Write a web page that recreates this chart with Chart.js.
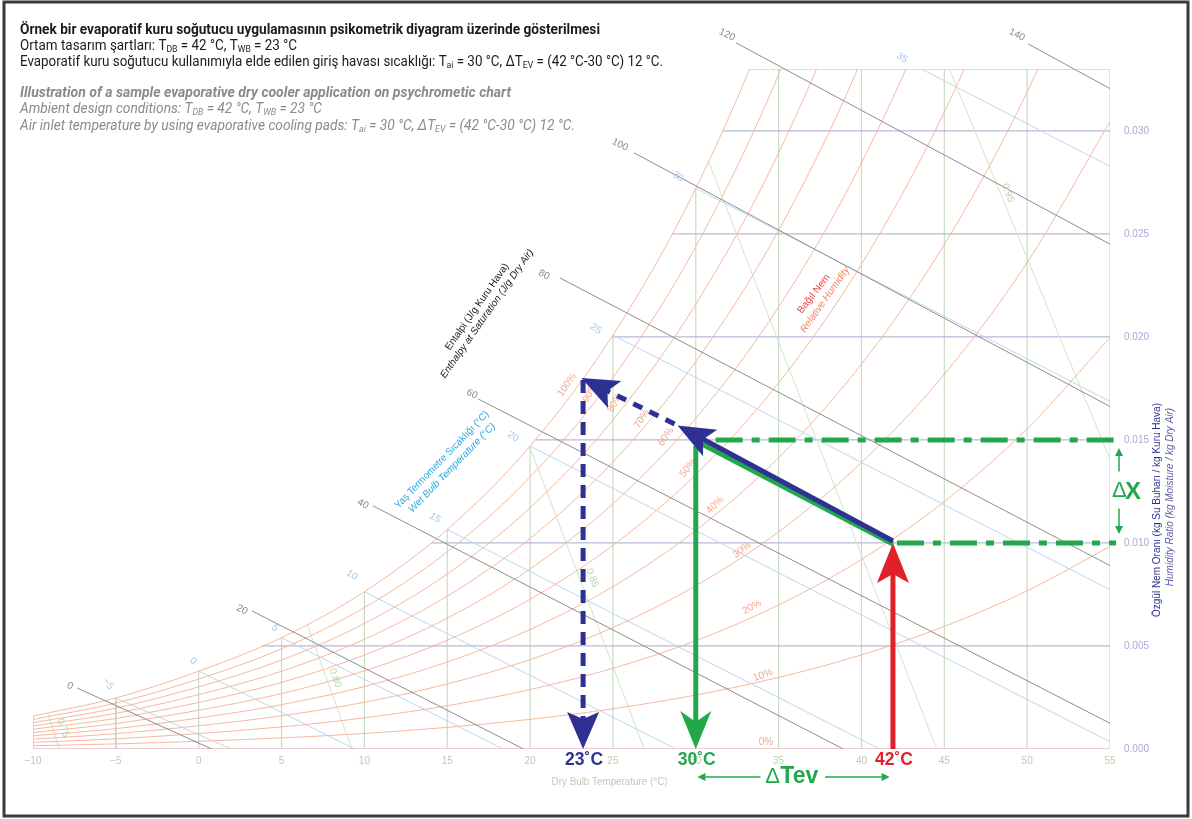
<!DOCTYPE html>
<html><head><meta charset="utf-8">
<script src="https://cdn.jsdelivr.net/npm/chart.js@4.4.1/dist/chart.umd.min.js"></script>
<style>html,body{margin:0;padding:0;background:#fff;}canvas{display:block;}</style>
</head><body>
<canvas id="c" width="1192" height="819"></canvas>
<script>
// ---------------- DATA ----------------
const dryBulbC = [-10,-5,0,5,10,15,20,25,30,35,40,45,50,55];
const satPressureKPa = [0.2600,0.4019,0.6112,0.8726,1.2282,1.7058,2.3392,3.1697,4.2467,5.6286,7.3844,9.5944,12.351,15.761];
const atmPressureKPa = 101.325;
const rhPercent = [10,20,30,40,50,60,70,80,90,100];

const xTickValues = [-10,-5,0,5,10,15,20,25,30,35,40,45,50,55];
const xTickLabels = ['\u221210','\u22125','0','5','10','15','20','25','30','35','40','45','50','55'];
const yTickValues = [0,0.005,0.010,0.015,0.020,0.025,0.030];
const yTickLabels = ['0.000','0.005','0.010','0.015','0.020','0.025','0.030'];

// horizontal humidity-ratio grid: W and dew point where it meets saturation
const gridHumidity = [0.005,0.010,0.015,0.020,0.025,0.030,0.033];
const gridDewPointC = [3.8,14.05,20.33,24.93,28.59,31.63,33.25];

// wet bulb lines: saturation start, temperature where W reaches 0
const wbTempsC = [-5,0,5,10,15,20,25,30,35];
const wbSatW = [0.002476,0.003789,0.005403,0.007632,0.010651,0.014699,0.020086,0.02721,0.036585];
const wbZeroC = [1.97,9.42,18.37,28.80,41.11,55.86,73.77,95.76,122.99];
const wbLabelT = [-5.47,-0.34,4.60,9.25,14.26,18.97,23.98,28.93,42.44];
const wbLabelW = [0.00316,0.00427,0.00587,0.00845,0.01121,0.01515,0.02039,0.02777,0.03354];

// enthalpy lines (J/g dry air)
const enthalpyLabels = [0,20,40,60,80,100,120,140];
const enthStartC = [-7.34,3.22,10.52,16.86,21.80,26.27,32.43,50.05];
const enthStartW = [0.00296,0.00670,0.01180,0.01699,0.02286,0.02893,0.03427,0.03422];
const enthEndC = [0.79,19.6,38.9,55,55,55,55,55];
const enthEndW = [0,0,0,0.00125,0.0089,0.01662,0.0245,0.03205];
const enthLabelT = [-7.77,2.61,9.92,16.49,20.84,25.43,31.88,49.38];
const enthLabelW = [0.00306,0.00675,0.01189,0.01723,0.02301,0.02932,0.03466,0.03466];

// specific volume lines (m3/kg)
const volLabels = ['0.75','0.80','0.85','0.90','0.95'];
const volTopC = [-9.1,6.55,19.97,30.75,45.3];
const volTopW = [0.00173,0.00603,0.01469,0.02855,0.033];
const volZeroC = [-8.41,9.25,26.89,44.54,62.2];
const volLabelT = [-8.19,8.23,23.74,null,48.84];
const volLabelW = [0.00102,0.00345,0.0083,null,0.02699];

// RH label anchors
const rhLabelText = ['0%','10%','20%','30%','40%','50%','60%','70%','80%','90%','100%'];
const rhLabelT = [34.24,34.06,33.39,32.79,31.16,29.53,28.2,26.75,25.12,23.62,22.23];
const rhLabelW = [0.00034,0.00359,0.00689,0.00966,0.01184,0.01364,0.01515,0.01602,0.0168,0.01728,0.01767];
const rhLabelRot = [0,-20,-28,-38,-45,-52,-55,-57,-60,-62,-55];

// process (evaporative cooling) annotation
const ambientState = [41.9, 0.0100];
const cooledState = [30.0, 0.0150];
const wbArrowTip = [28.9, 0.0157];
const saturationState = [23.1, 0.0180];
const markTempsC = [23.2, 30.0, 41.9];
const markLabels = ['23\u02DAC','30\u02DAC','42\u02DAC'];

// ---------------- BUILD DATASETS ----------------
const satW = satPressureKPa.map(p => 0.622*p/(atmPressureKPa-p));
const datasets = [];
const line = (data, color, width, order, extra) => Object.assign({
  data, showLine:true, borderColor:color, borderWidth:width, pointRadius:0, fill:false, order
}, extra||{});

// vertical dry bulb lines
dryBulbC.forEach((t,i) => {
  const c = (t < 0) ? '#c3bcb4' : '#c8dcc3';
  datasets.push(line([{x:t,y:0},{x:t,y:Math.min(satW[i],0.033)}], c, 1.2, 60));
});
// horizontal humidity lines
gridHumidity.forEach((w,i) => {
  datasets.push(line([{x:gridDewPointC[i],y:w},{x:55,y:w}], '#b9b9d8', 1.2, 55));
});
// specific volume lines
volLabels.forEach((v,i) => {
  datasets.push(line([{x:volTopC[i],y:volTopW[i]},{x:volZeroC[i],y:0}], '#cfe6c9', 1, 50));
});
// wet bulb lines
wbTempsC.forEach((t,i) => {
  datasets.push(line([{x:t,y:wbSatW[i]},{x:wbZeroC[i],y:0}], '#bed6f0', 1, 45));
});
// relative humidity curves
rhPercent.forEach(rh => {
  const phi = rh/100;
  const pts = dryBulbC.map((t,i) => ({x:t, y:0.622*phi*satPressureKPa[i]/(atmPressureKPa-phi*satPressureKPa[i])}));
  datasets.push(line(pts, '#f7b8a0', 1, 40, {cubicInterpolationMode:'monotone'}));
});
// 0% line
datasets.push(line([{x:-10,y:0},{x:55,y:0}], '#e4bcc4', 1.5, 39));
// enthalpy lines
enthalpyLabels.forEach((h,i) => {
  datasets.push(line([{x:enthStartC[i],y:enthStartW[i]},{x:enthEndC[i],y:enthEndW[i]}], '#8e8e8e', 1, 35,
    {clip:{left:false,top:false,right:0,bottom:0}}));
});

// ---------------- DRAW HELPERS ----------------
function rotText(ctx, text, x, y, deg, font, color, maxW) {
  ctx.save();
  ctx.translate(x,y); ctx.rotate(deg*Math.PI/180);
  ctx.font = font; ctx.fillStyle = color; ctx.textAlign='center'; ctx.textBaseline='middle';
  if (maxW) ctx.fillText(text,0,0,maxW); else ctx.fillText(text,0,0);
  ctx.restore();
}
function richText(ctx, x, y, segs, font, subFont, color, targetW) {
  ctx.save();
  let w = 0;
  segs.forEach(([t,sub]) => { ctx.font = sub?subFont:font; w += ctx.measureText(t).width; });
  const sx = targetW ? targetW/w : 1;
  ctx.translate(x,y); ctx.scale(sx,1);
  ctx.fillStyle = color; ctx.textBaseline='middle'; ctx.textAlign='left';
  let cx = 0;
  segs.forEach(([t,sub]) => { ctx.font = sub?subFont:font; ctx.fillText(t,cx,sub?3.5:0); cx += ctx.measureText(t).width; });
  ctx.restore();
}
function arrow(ctx, x0,y0,x1,y1, color, width, dash, len, half, notch) {
  const dx=x1-x0, dy=y1-y0, L=Math.hypot(dx,dy), ux=dx/L, uy=dy/L;
  ctx.save();
  ctx.strokeStyle=color; ctx.lineWidth=width; ctx.lineCap='butt';
  ctx.setLineDash(dash||[]);
  ctx.beginPath(); ctx.moveTo(x0,y0); ctx.lineTo(x1-ux*(len-notch), y1-uy*(len-notch)); ctx.stroke();
  ctx.setLineDash([]);
  const bx=x1-ux*len, by=y1-uy*len, nx=-uy, ny=ux;
  ctx.fillStyle=color;
  ctx.beginPath();
  ctx.moveTo(x1,y1);
  ctx.lineTo(bx+nx*half, by+ny*half);
  ctx.lineTo(x1-ux*(len-notch), y1-uy*(len-notch));
  ctx.lineTo(bx-nx*half, by-ny*half);
  ctx.closePath(); ctx.fill();
  ctx.restore();
}
function seg(ctx, x0,y0,x1,y1,color,width,dash) {
  ctx.save(); ctx.strokeStyle=color; ctx.lineWidth=width; ctx.setLineDash(dash||[]);
  ctx.beginPath(); ctx.moveTo(x0,y0); ctx.lineTo(x1,y1); ctx.stroke(); ctx.restore();
}

const NAVY='#2e3192', GREEN='#22a84b', RED='#e2202a';
const SANS = '"Liberation Sans", Arial, sans-serif';
const COND = '"Liberation Sans Narrow", Roboto, "Liberation Sans", sans-serif';

const bgPlugin = { id:'bg', beforeDraw(chart){ const c=chart.ctx; c.save(); c.fillStyle='#fff'; c.fillRect(0,0,chart.width,chart.height); c.restore(); } };

const overlay = {
  id:'overlay',
  afterDatasetsDraw(chart) {
    const ctx = chart.ctx, xs = chart.scales.x, ys = chart.scales.y;
    const px = t => xs.getPixelForValue(t), py = w => ys.getPixelForValue(w);
    const f10 = '10px ' + SANS, i10 = 'italic 10px ' + SANS;

    // wet bulb labels
    wbTempsC.forEach((t,i) => {
      const r = t < 0 ? 55 : (t <= 5 ? 42 : 33);
      rotText(ctx, String(t).replace('-','\u2212'), px(wbLabelT[i]), py(wbLabelW[i]), r, f10, '#a6c6ea');
    });
    // enthalpy labels
    enthalpyLabels.forEach((h,i) => rotText(ctx, String(h), px(enthLabelT[i]), py(enthLabelW[i]), 27, f10, '#8a8a8a'));
    // volume labels
    volLabels.forEach((v,i) => { if (volLabelT[i]!==null) rotText(ctx, v, px(volLabelT[i]), py(volLabelW[i]), 70, f10, '#b3d4aa'); });
    // RH labels
    rhLabelText.forEach((s,i) => rotText(ctx, s, px(rhLabelT[i]), py(rhLabelW[i]), rhLabelRot[i], f10, '#f4a78c'));

    // axis-name labels inside chart
    rotText(ctx, 'Entalpi (J/g Kuru Hava)', px(16.80), py(0.02146), -55, f10, '#1a1a1a', 104);
    rotText(ctx, 'Enthalpy at Saturation (J/g Dry Air)', px(17.40), py(0.02112), -55, i10, '#1a1a1a', 156);
    rotText(ctx, 'Yaş Termometre Sıcaklığı (°C)', px(14.68), py(0.01403), -46, f10, '#2aa7df', 131);
    rotText(ctx, 'Wet Bulb Temperature (°C)', px(15.29), py(0.01364), -46, i10, '#2aa7df', 120);
    rotText(ctx, 'Bağıl Nem', px(37.13), py(0.02209), -52, f10, '#e8483e', 48);
    rotText(ctx, 'Relative Humidity', px(37.80), py(0.02180), -55, i10, '#f3825e', 80);

    // ---- process annotations ----
    const ax = px(ambientState[0]), ay = py(ambientState[1]);
    const cx = px(cooledState[0]), cy = py(cooledState[1]);
    const tx = px(wbArrowTip[0]), ty = py(wbArrowTip[1]);
    const sx = px(saturationState[0]), sy = py(saturationState[1]);
    const right = chart.chartArea.right + 6;
    const dashDot = [27,9,8,9];
    // dash-dot humidity levels
    seg(ctx, px(31.2), cy, right, cy, GREEN, 5, dashDot);
    seg(ctx, ax+4, ay, right, ay, GREEN, 5, dashDot);
    // red arrow (ambient)
    const x42 = px(markTempsC[2]);
    arrow(ctx, x42, py(0), x42, ay, RED, 5, null, 40, 16, 9);
    // green vertical arrow (cooled)
    const x30 = px(markTempsC[1]);
    arrow(ctx, x30, cy+6, x30, py(0), GREEN, 5, null, 38, 15.5, 11);
    // green process line
    seg(ctx, ax, ay+1, cx, cy+1, GREEN, 5);
    // blue wet-bulb arrow (solid)
    arrow(ctx, ax, ay-2, tx, ty, NAVY, 5, null, 37, 15, 8);
    // blue dashed continuation to saturation
    arrow(ctx, tx-3, ty-1.5, sx, sy, NAVY, 5, [10,8], 37, 15, 8);
    // blue dashed vertical
    const x23 = px(markTempsC[0]);
    arrow(ctx, x23, sy+2, x23, py(0), NAVY, 5, [13,8], 37, 16, 7);

    // temperature labels
    const cols = [NAVY, GREEN, RED];
    markTempsC.forEach((t,i) => {
      ctx.save(); ctx.font = 'bold 19px ' + SANS; ctx.fillStyle = cols[i];
      ctx.textAlign='center'; ctx.textBaseline='middle';
      ctx.fillText(markLabels[i], px(t)+1, py(0)+11, 38); ctx.restore();
    });
    // delta X
    const xm = chart.chartArea.right + 9;
    const wMid = (ambientState[1]+cooledState[1])/2;
    arrow(ctx, xm, py(wMid)-20, xm, py(cooledState[1])+8, GREEN, 1.5, null, 8, 4, 0);
    arrow(ctx, xm, py(wMid)+17, xm, py(ambientState[1])-9, GREEN, 1.5, null, 8, 4, 0);
    ctx.save(); ctx.fillStyle=GREEN; ctx.textBaseline='middle'; ctx.textAlign='left';
    ctx.font = '22px ' + SANS; ctx.fillText('\u0394', xm-7, py(wMid));
    ctx.font = 'bold 24px ' + SANS; ctx.fillText('X', xm+6, py(wMid)+1);
    ctx.restore();
    // delta Tev
    const yT = py(0) + 28;
    arrow(ctx, px(33.9), yT, px(30.1), yT, GREEN, 1.5, null, 8, 4, 0);
    arrow(ctx, px(37.8), yT, px(41.7), yT, GREEN, 1.5, null, 8, 4, 0);
    ctx.save(); ctx.fillStyle=GREEN; ctx.textBaseline='middle'; ctx.textAlign='left';
    const tx0 = px(34.2);
    ctx.font = '22px ' + SANS; ctx.fillText('\u0394', tx0, yT);
    ctx.font = 'bold 23px ' + SANS; ctx.fillText('Tev', tx0+15, yT, 40);
    ctx.restore();
  },
  afterDraw(chart) {
    const ctx = chart.ctx;
    // x axis title
    ctx.save(); ctx.font = '10px ' + SANS; ctx.fillStyle='#b8d0b0'; ctx.textAlign='center'; ctx.textBaseline='middle';
    ctx.fillText('Dry Bulb Temperature (°C)', chart.scales.x.getPixelForValue(24.8), 782, 116); ctx.restore();
    // right axis title
    rotText(ctx, 'Özgül Nem Oranı (kg Su Buharı / kg Kuru Hava)', 1157, 510, -90, '10px ' + SANS, '#2e3192', 222);
    rotText(ctx, 'Humidity Ratio (kg Moisture / kg Dry Air)', 1170, 497, -90, 'italic 10px ' + SANS, '#5c5fa8', 190);
    // titles
    const B = 'bold 14px ' + COND, R = '14px ' + COND, S = '9px ' + COND;
    const BI = 'italic bold 14px ' + COND, I = 'italic 14px ' + COND, SI = 'italic 9px ' + COND;
    richText(ctx, 20, 30, [['Örnek bir evaporatif kuru soğutucu uygulamasının psikometrik diyagram üzerinde gösterilmesi',0]], B, S, '#1b1b1b', 580);
    richText(ctx, 20, 46, [['Ortam tasarım şartları: T',0],['DB',1],[' = 42 °C, T',0],['WB',1],[' = 23 °C',0]], R, S, '#1b1b1b', 277);
    richText(ctx, 20, 62, [['Evaporatif kuru soğutucu kullanımıyla elde edilen giriş havası sıcaklığı: T',0],['ai',1],[' = 30 °C, \u0394T',0],['EV',1],[' = (42 °C-30 °C) 12 °C.',0]], R, S, '#1b1b1b', 643);
    richText(ctx, 20, 93, [['Illustration of a sample evaporative dry cooler application on psychrometic chart',0]], BI, SI, '#8a8a8a', 491);
    richText(ctx, 20, 109, [['Ambient design conditions: T',0],['DB',1],[' = 42 °C, T',0],['WB',1],[' = 23 °C',0]], I, SI, '#8a8a8a', 302);
    richText(ctx, 20, 126, [['Air inlet temperature by using evaporative cooling pads: T',0],['ai',1],[' = 30 °C, \u0394T',0],['EV',1],[' = (42 °C-30 °C) 12 °C.',0]], I, SI, '#8a8a8a', 555);
    // frame
    ctx.save(); ctx.strokeStyle='#3a3a3a'; ctx.lineWidth=3; ctx.strokeRect(4,2,1184,814); ctx.restore();
  }
};

new Chart(document.getElementById('c').getContext('2d'), {
  type:'scatter',
  data:{ datasets },
  options:{
    responsive:false, animation:false, devicePixelRatio:1,
    layout:{ padding:{ left:33, top:69, right:0, bottom:0 } },
    plugins:{ legend:{display:false}, tooltip:{enabled:false} },
    elements:{ point:{ radius:0 }, line:{ tension:0 } },
    scales:{
      x:{ type:'linear', min:-10, max:55, position:'bottom',
          grid:{display:false, drawTicks:false}, border:{display:false},
          afterBuildTicks: s => { s.ticks = xTickValues.map(v => ({value:v})); },
          afterFit: s => { s.height = 70; },
          ticks:{ padding:6, color:'#b5cfae', font:{family:SANS, size:10}, maxRotation:0, autoSkip:false,
                  callback:(v,i) => xTickLabels[i] } },
      y:{ type:'linear', min:0, max:0.033, position:'right',
          grid:{display:false, drawTicks:false}, border:{display:false},
          afterBuildTicks: s => { s.ticks = yTickValues.map(v => ({value:v})); },
          afterFit: s => { s.width = 82; },
          ticks:{ padding:14, color:'#a9a9d6', font:{family:SANS, size:10}, autoSkip:false,
                  callback:(v,i) => yTickLabels[i] } }
    }
  },
  plugins:[bgPlugin, overlay]
});
</script>
</body></html>
